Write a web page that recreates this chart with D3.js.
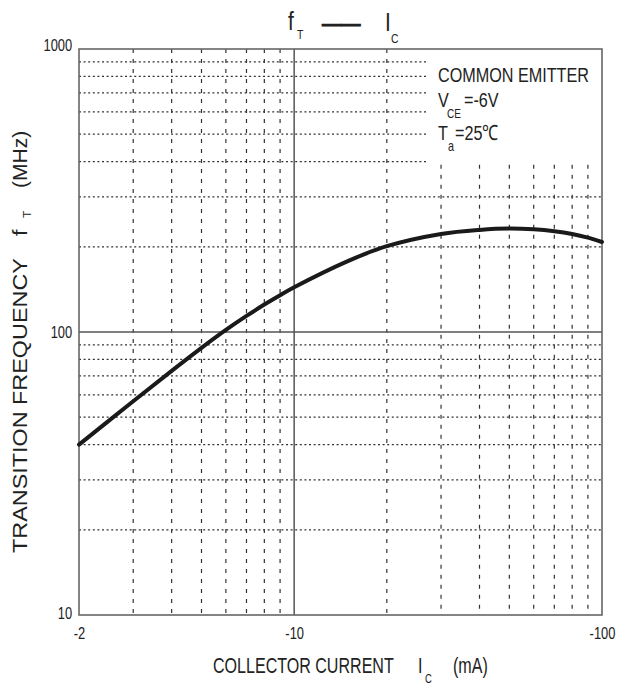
<html>
<head>
  <script src="https://d3js.org/d3.v7.min.js"></script>
  <style>
    body { margin: 0; background: #fff; }
    text { font-family: 'Liberation Sans', Arial, sans-serif; fill: #222; }
  </style>
</head>
<body>
  <svg id="chart" width="618" height="686"></svg>
  <script>
    // ---- data (fT vs Ic, common emitter) ----
    const icValues = [2, 3, 4, 5, 6, 7, 8, 9, 10, 15, 20, 30, 40, 50, 60, 70, 80, 90, 100];
    const ftValues = [40, 56.9, 72.9, 87.9, 101.7, 114, 125, 134.9, 143.9, 178.4, 201, 222, 229.5, 232, 230.5, 227, 222, 215.5, 208];

    const xMajor = [2, 10, 100];
    const xMajorLabels = ["-2", "-10", "-100"];
    const yMajor = [10, 100, 1000];
    const yMajorLabels = ["10", "100", "1000"];
    const xMinor = [3, 4, 5, 6, 7, 8, 9, 20, 30, 40, 50, 60, 70, 80, 90];
    const yMinor = [20, 30, 40, 50, 60, 70, 80, 90, 200, 300, 400, 500, 600, 700, 800, 900];

    // ---- dimensions ----
    const svg = d3.select("svg#chart");
    const margin = { top: 49, right: 16, bottom: 71, left: 79 };
    const width = 618 - margin.left - margin.right;
    const height = 686 - margin.top - margin.bottom;

    const x = d3.scaleLog().domain([2, 100]).range([0, width]);
    const y = d3.scaleLog().domain([10, 1000]).range([height, 0]);

    const chart = svg.append("g").attr("transform", `translate(${margin.left},${margin.top})`);

    // ---- grid ----
    // the legend sits in the top right corner, grid is left out there
    const legendIc = 27, legendFt = 390;

    chart.append("g").selectAll("line")
      .data(yMinor)
      .join("line")
      .attr("x1", 0)
      .attr("x2", d => d >= 400 ? x(legendIc) : width)
      .attr("y1", d => y(d)).attr("y2", d => y(d))
      .attr("stroke", "#333").attr("stroke-width", 1.2)
      .attr("stroke-dasharray", "2,2.6");

    chart.append("g").selectAll("line")
      .data(xMinor)
      .join("line")
      .attr("x1", d => x(d)).attr("x2", d => x(d))
      .attr("y1", d => d >= 30 ? y(legendFt) : 0)
      .attr("y2", height)
      .attr("stroke", "#333").attr("stroke-width", 1.2)
      .attr("stroke-dasharray", "4,6");

    // solid decade lines
    chart.append("line")
      .attr("x1", x(10)).attr("x2", x(10)).attr("y1", 0).attr("y2", height)
      .attr("stroke", "#555").attr("stroke-width", 1.5);
    chart.append("line")
      .attr("x1", 0).attr("x2", width).attr("y1", y(100)).attr("y2", y(100))
      .attr("stroke", "#555").attr("stroke-width", 1.5);

    // frame
    chart.append("rect")
      .attr("width", width).attr("height", height)
      .attr("fill", "none").attr("stroke", "#666").attr("stroke-width", 1.6);

    // ---- axes ----
    // tick labels are squeezed horizontally to look like the narrow datasheet font
    const leftAxis = d3.axisLeft(y)
      .tickValues(yMajor)
      .tickFormat((d, i) => yMajorLabels[i])
      .tickSize(0).tickPadding(9);
    chart.append("g")
      .call(leftAxis)
      .call(g => g.select(".domain").remove())
      .call(g => g.selectAll("text").attr("font-size", 17).attr("fill", "#222")
        .style("font-family", "'Liberation Sans', Arial, sans-serif")
        .attr("transform", "scale(0.76,1)"))
      .call(g => g.selectAll(".tick").filter(d => d === 1000).select("text").attr("dy", "0.1em"))
      .call(g => g.selectAll(".tick").filter(d => d === 10).select("text").attr("dy", "0.2em"));

    const bottomAxis = d3.axisBottom(x)
      .tickValues(xMajor)
      .tickFormat((d, i) => xMajorLabels[i])
      .tickSize(0).tickPadding(12);
    chart.append("g")
      .attr("transform", `translate(0,${height})`)
      .call(bottomAxis)
      .call(g => g.select(".domain").remove())
      .call(g => g.selectAll("text").attr("font-size", 17).attr("fill", "#222")
        .style("font-family", "'Liberation Sans', Arial, sans-serif")
        .attr("transform", "scale(0.76,1)"));

    // ---- curve ----
    const line = d3.line()
      .x((d, i) => x(icValues[i]))
      .y(d => y(d))
      .curve(d3.curveCatmullRom.alpha(0.5));
    chart.append("path")
      .datum(ftValues)
      .attr("d", line)
      .attr("fill", "none")
      .attr("stroke", "#1a1a1a")
      .attr("stroke-width", 4)
      .attr("stroke-linecap", "round");

    // ---- texts ----
    // one <text> per label, pieces (subscripts) as tspans, whole thing squeezed by k
    function label(g, px, py, k, parts) {
      const t = g.append("text").attr("transform", `translate(${px},${py}) scale(${k},1)`);
      parts.forEach(p => {
        t.append("tspan")
          .attr("x", (p.x || 0) / k)
          .attr("y", p.dy || 0)
          .attr("font-size", p.size)
          .text(p.t);
      });
      return t;
    }

    const ann = svg.append("g");

    // title  fT —— IC
    label(ann, 288, 30, 0.8, [
      { t: "f", x: 0, size: 26 },
      { t: "T", x: 9, dy: 9, size: 13 },
      { t: "——", x: 34, dy: 1, size: 24 },
      { t: "I", x: 97, dy: 1, size: 26 },
      { t: "C", x: 103, dy: 13, size: 13 }
    ]).selectAll("tspan").filter((d, i) => i === 2)
      .attr("stroke", "#222").attr("stroke-width", 1.1);

    // legend
    label(ann, 438, 82, 0.77, [{ t: "COMMON EMITTER", size: 21 }]);
    label(ann, 438, 107, 0.77, [
      { t: "V", x: 0, size: 21 },
      { t: "CE", x: 9, dy: 11, size: 13 },
      { t: "=-6V", x: 26, size: 21 }
    ]);
    label(ann, 438, 140, 0.77, [
      { t: "T", x: 0, size: 21 },
      { t: "a", x: 10, dy: 11, size: 14 },
      { t: "=25℃", x: 17, size: 21 }
    ]);

    // x axis title
    label(ann, 213, 673, 0.73, [
      { t: "COLLECTOR CURRENT", x: 0, size: 22 },
      { t: "I", x: 205, size: 22 },
      { t: "C", x: 212, dy: 10, size: 13 },
      { t: "(mA)", x: 240, size: 22 }
    ]);

    // y axis title (rotated, reads bottom to top)
    const yt = svg.append("g").attr("transform", "rotate(-90)");
    label(yt, -553, 27, 1.17, [{ t: "TRANSITION FREQUENCY", size: 20 }]);
    label(yt, -236, 27, 1.1, [
      { t: "f", x: 0, size: 21 },
      { t: "T", x: 18, dy: 4, size: 11 }
    ]);
    label(yt, -188, 27, 1.05, [{ t: "(MHz)", size: 20 }]);
  </script>
</body>
</html>
